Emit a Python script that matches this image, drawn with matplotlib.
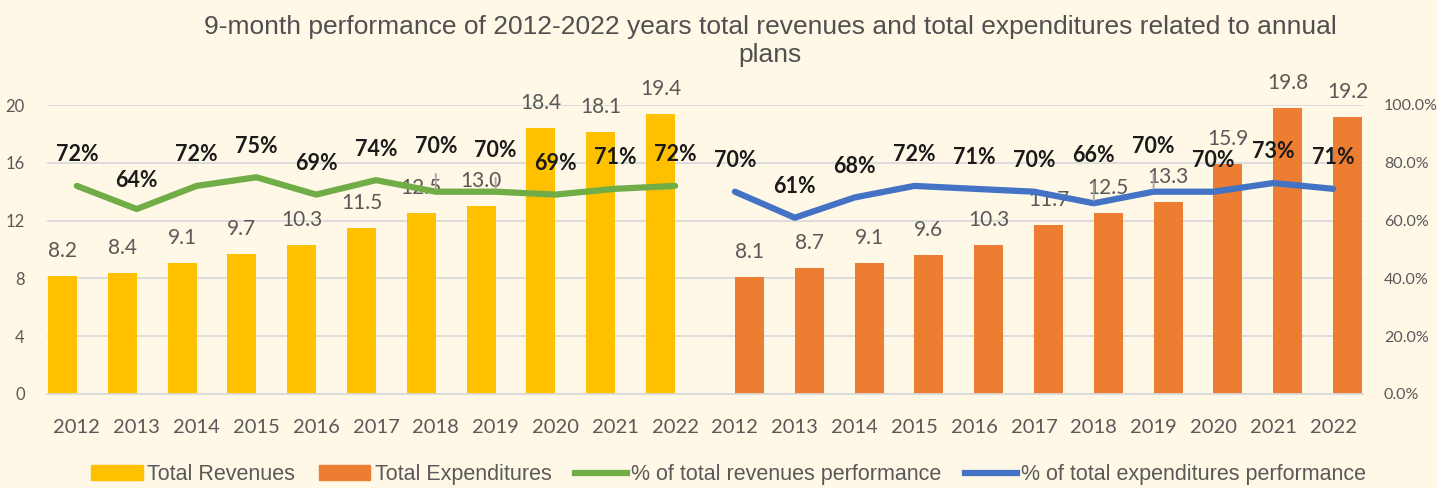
import matplotlib
matplotlib.use("Agg")
import matplotlib.pyplot as plt
from matplotlib.patches import Patch
from matplotlib.lines import Line2D
import numpy as np

years = ["2012", "2013", "2014", "2015", "2016", "2017",
         "2018", "2019", "2020", "2021", "2022"]
revenues = [8.2, 8.4, 9.1, 9.7, 10.3, 11.5, 12.5, 13.0, 18.4, 18.1, 19.4]
expenditures = [8.1, 8.7, 9.1, 9.6, 10.3, 11.7, 12.5, 13.3, 15.9, 19.8, 19.2]
rev_pct = [72, 64, 72, 75, 69, 74, 70, 70, 69, 71, 72]
exp_pct = [70, 61, 68, 72, 71, 70, 66, 70, 70, 73, 71]

title = ("9-month performance of 2012-2022 years total revenues and total "
         "expenditures related to annual\nplans")

# label lift above the line point (pixels), leaders drawn when lifted far
rev_lift = [31, 29, 31, 31, 31, 31, 45, 41, 31, 31, 31]
exp_lift = [31, 31, 31, 31, 31, 31, 48, 45, 31, 32, 31]

bg = "#FFF8E6"
c_rev, c_exp = "#FFC000", "#ED7D31"
c_rline, c_eline = "#70AD47", "#4472C4"
grey = "#595959"

n = len(years)
x_rev = np.arange(n)
x_exp = np.arange(n) + n
w = 0.485

fig = plt.figure(figsize=(14.37, 4.88), dpi=100, facecolor=bg)
ax = fig.add_axes([47 / 1437, 1 - 394 / 488, 1316 / 1437, 289 / 488])
ax.set_facecolor(bg)
ax2 = ax.twinx()

# clustered bars: revenue sits left of the category, expenditure right
ax.bar(x_rev - w / 2, revenues, width=w, color=c_rev, zorder=2)
ax.bar(x_exp + w / 2, expenditures, width=w, color=c_exp, zorder=2)

for xs, vals in ((x_rev - w / 2, revenues), (x_exp + w / 2, expenditures)):
    for xi, v in zip(xs, vals):
        ax.annotate(f"{v:.1f}", (xi, v), xytext=(0, 25), textcoords="offset pixels",
                    ha="center", va="center", fontsize=15, color=grey,
                    family="Lato", annotation_clip=False, zorder=5)

ax.set_xlim(-0.5, 2 * n - 0.5)
ax.set_ylim(0, 20)
ax.set_yticks(range(0, 21, 4))
ax.set_xticks(list(x_rev) + list(x_exp))
ax.set_xticklabels(years + years)
ax.yaxis.grid(True, color="#D9D9D9", lw=1.3, zorder=0)
ax.set_axisbelow(True)
for s in ["top", "left", "right"]:
    ax.spines[s].set_visible(False)
ax.spines["bottom"].set_color("#D9D9D9")
ax.spines["bottom"].set_linewidth(1.3)
ax.tick_params(axis="x", length=0, pad=18, labelsize=14.5, labelcolor=grey)
ax.tick_params(axis="y", length=0, pad=16, labelsize=12, labelcolor=grey)
for lab in ax.get_xticklabels():
    lab.set_family("Lato")
for lab in ax.get_yticklabels():
    lab.set_family("Lato")

ax2.plot(x_rev, np.array(rev_pct) / 100, color=c_rline, lw=4.5,
         solid_capstyle="round", solid_joinstyle="round", zorder=3)
ax2.plot(x_exp, np.array(exp_pct) / 100, color=c_eline, lw=4.5,
         solid_capstyle="round", solid_joinstyle="round", zorder=3)
ax2.set_ylim(0, 1)
ax2.set_yticks(np.arange(0, 1.01, 0.2))
ax2.set_yticklabels([f"{v * 100:.1f}%" for v in np.arange(0, 1.01, 0.2)])
ax2.tick_params(axis="y", length=0, pad=15, labelsize=11.5, labelcolor=grey)
for lab in ax2.get_yticklabels():
    lab.set_family("Lato")
for s in ax2.spines.values():
    s.set_visible(False)

for xs, vals, lifts in ((x_rev, rev_pct, rev_lift), (x_exp, exp_pct, exp_lift)):
    for xi, v, lift in zip(xs, vals, lifts):
        props = None
        if lift > 38:
            props = dict(arrowstyle="-", color="#A6A6A6", lw=1.3,
                         shrinkA=10, shrinkB=2)
        ax2.annotate(f"{v}%", (xi, v / 100), xytext=(0, lift),
                     textcoords="offset pixels", ha="center", va="center",
                     fontsize=15.5, fontweight="bold", color="#1A1A1A",
                     family="Lato", arrowprops=props, zorder=6)

fig.text(0.536, 0.916, title, ha="center", va="center", fontsize=19,
         color="#505050", family="Liberation Sans", linespacing=1.25)

handles = [Patch(color=c_rev), Patch(color=c_exp),
           Line2D([], [], color=c_rline, lw=4.5),
           Line2D([], [], color=c_eline, lw=4.5)]
labels = ["Total Revenues", "Total Expenditures",
          "% of total revenues performance", "% of total expenditures performance"]
fig.legend(handles, labels, loc="center", bbox_to_anchor=(0.507, 0.027), ncol=4,
           frameon=False, prop={"family": "Liberation Sans", "size": 15.5},
           labelcolor=grey, handlelength=2.4, handleheight=0.7,
           handletextpad=0.2, columnspacing=1.1)

fig.savefig("out.png", dpi=100, facecolor=bg)
